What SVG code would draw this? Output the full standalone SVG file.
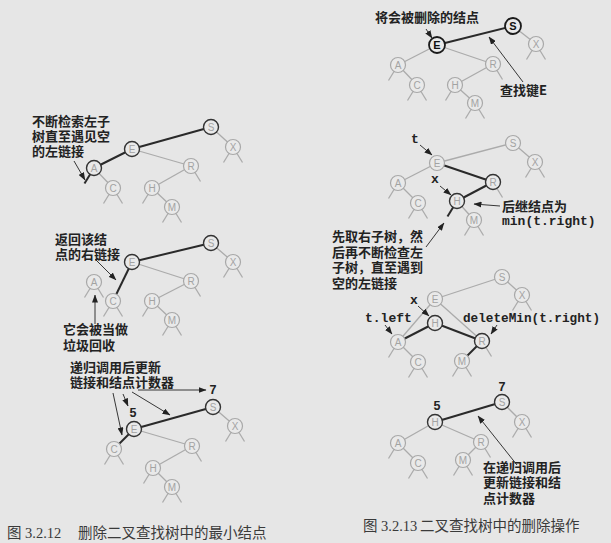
<svg xmlns="http://www.w3.org/2000/svg" width="611" height="543" viewBox="0 0 611 543">
<style>
.eg{stroke:#ababab;stroke-width:1.3;fill:none}
.ed{stroke:#2a2a2a;stroke-width:2;fill:none}
.ar{stroke:#222;stroke-width:0.9;fill:none;marker-end:url(#ah)}
.ng circle{fill:#e9e9e9;stroke:#a8a8a8;stroke-width:1.2}
.nd circle{fill:#e9e9e9;stroke:#333;stroke-width:1.4}
.nb circle{fill:#e9e9e9;stroke:#1a1a1a;stroke-width:1.8}
.ng text,.nd text{font-family:"Liberation Sans",Arial,sans-serif;font-size:10px;fill:#a3a3a3;text-anchor:middle}
.nb text{font-family:"Liberation Sans",Arial,sans-serif;font-size:11px;font-weight:bold;fill:#111;text-anchor:middle}
.lab{font-family:"Noto Sans CJK SC","Noto Sans",sans-serif;font-size:13px;font-weight:bold;fill:#222}
.mono{font-family:"Liberation Mono","DejaVu Sans Mono",monospace;font-size:13px;font-weight:bold;fill:#222}
.num{font-family:"Liberation Sans",Arial,sans-serif;font-size:12.5px;font-weight:bold;fill:#222;text-anchor:middle}
.cap{font-family:"Liberation Serif","Noto Sans CJK SC",serif;font-size:14.5px;fill:#3a3a3a}
</style>
<defs>
<marker id="ah" markerWidth="8" markerHeight="6" refX="7.5" refY="3" orient="auto" markerUnits="userSpaceOnUse"><path d="M0,0 L8,3 L0,6 Z" fill="#222"/></marker>
</defs>
<rect width="611" height="543" fill="#e6e6e6"/>
<g id="connectors">
<!-- panel a -->
<line class="eg" x1="211" y1="127" x2="233" y2="147"/>
<line class="eg" x1="132" y1="149" x2="191" y2="166"/>
<line class="eg" x1="94" y1="168" x2="113" y2="188"/>
<line class="eg" x1="191" y1="166" x2="152" y2="188"/>
<line class="eg" x1="152" y1="188" x2="172" y2="207"/>
<line class="eg" x1="233" y1="147" x2="223.5" y2="162.5"/><line class="eg" x1="233" y1="147" x2="242.5" y2="162.5"/>
<line class="eg" x1="113" y1="188" x2="103.5" y2="203.5"/><line class="eg" x1="113" y1="188" x2="122.5" y2="203.5"/>
<line class="eg" x1="152" y1="188" x2="142.5" y2="203.5"/>
<line class="eg" x1="172" y1="207" x2="162.5" y2="222.5"/><line class="eg" x1="172" y1="207" x2="181.5" y2="222.5"/>
<line class="eg" x1="191" y1="166" x2="200.5" y2="181.5"/>
<line class="ed" x1="211" y1="127" x2="132" y2="149"/>
<line class="ed" x1="132" y1="149" x2="94" y2="168"/>
<line class="ed" x1="94" y1="168" x2="84.5" y2="183.5"/>
<!-- panel b -->
<line class="eg" x1="211" y1="243" x2="233" y2="262"/>
<line class="eg" x1="132" y1="262" x2="191" y2="281"/>
<line class="eg" x1="191" y1="281" x2="152" y2="301"/>
<line class="eg" x1="152" y1="301" x2="172" y2="320"/>
<line class="eg" x1="233" y1="262" x2="223.5" y2="277.5"/><line class="eg" x1="233" y1="262" x2="242.5" y2="277.5"/>
<line class="eg" x1="94" y1="282" x2="84.5" y2="297.5"/><line class="eg" x1="94" y1="282" x2="103.5" y2="297.5"/>
<line class="eg" x1="113" y1="301" x2="103.5" y2="316.5"/><line class="eg" x1="113" y1="301" x2="122.5" y2="316.5"/>
<line class="eg" x1="152" y1="301" x2="142.5" y2="316.5"/>
<line class="eg" x1="172" y1="320" x2="162.5" y2="335.5"/><line class="eg" x1="172" y1="320" x2="181.5" y2="335.5"/>
<line class="eg" x1="191" y1="281" x2="200.5" y2="296.5"/>
<line class="ed" x1="211" y1="243" x2="132" y2="262"/>
<line class="ed" x1="132" y1="262" x2="113" y2="301"/>
<!-- panel c -->
<line class="eg" x1="213" y1="407" x2="235" y2="426"/>
<line class="eg" x1="134" y1="429" x2="192" y2="446"/>
<line class="eg" x1="192" y1="446" x2="153" y2="468"/>
<line class="eg" x1="153" y1="468" x2="172" y2="487"/>
<line class="eg" x1="235" y1="426" x2="225.5" y2="441.5"/><line class="eg" x1="235" y1="426" x2="244.5" y2="441.5"/>
<line class="eg" x1="114" y1="449" x2="104.5" y2="464.5"/><line class="eg" x1="114" y1="449" x2="123.5" y2="464.5"/>
<line class="eg" x1="153" y1="468" x2="143.5" y2="483.5"/>
<line class="eg" x1="172" y1="487" x2="162.5" y2="502.5"/><line class="eg" x1="172" y1="487" x2="181.5" y2="502.5"/>
<line class="eg" x1="192" y1="446" x2="201.5" y2="461.5"/>
<line class="ed" x1="213" y1="407" x2="134" y2="429"/>
<line class="ed" x1="134" y1="429" x2="114" y2="449"/>
<!-- panel d -->
<line class="eg" x1="513" y1="26" x2="536" y2="44"/>
<line class="eg" x1="437" y1="45" x2="398" y2="65"/>
<line class="eg" x1="437" y1="45" x2="493" y2="64"/>
<line class="eg" x1="398" y1="65" x2="417" y2="85"/>
<line class="eg" x1="493" y1="64" x2="455" y2="85"/>
<line class="eg" x1="455" y1="85" x2="475" y2="103"/>
<line class="eg" x1="536" y1="44" x2="526.5" y2="59.5"/><line class="eg" x1="536" y1="44" x2="545.5" y2="59.5"/>
<line class="eg" x1="398" y1="65" x2="388.5" y2="80.5"/>
<line class="eg" x1="417" y1="85" x2="407.5" y2="100.5"/><line class="eg" x1="417" y1="85" x2="426.5" y2="100.5"/>
<line class="eg" x1="455" y1="85" x2="445.5" y2="100.5"/>
<line class="eg" x1="475" y1="103" x2="465.5" y2="118.5"/><line class="eg" x1="475" y1="103" x2="484.5" y2="118.5"/>
<line class="eg" x1="493" y1="64" x2="502.5" y2="79.5"/>
<line class="ed" x1="513" y1="26" x2="437" y2="45"/>
<!-- panel e -->
<line class="eg" x1="513" y1="143" x2="437" y2="163"/>
<line class="eg" x1="513" y1="143" x2="535" y2="162"/>
<line class="eg" x1="437" y1="163" x2="398" y2="183"/>
<line class="eg" x1="398" y1="183" x2="418" y2="203"/>
<line class="eg" x1="457" y1="201" x2="474" y2="220"/>
<line class="eg" x1="535" y1="162" x2="525.5" y2="177.5"/><line class="eg" x1="535" y1="162" x2="544.5" y2="177.5"/>
<line class="eg" x1="398" y1="183" x2="388.5" y2="198.5"/>
<line class="eg" x1="418" y1="203" x2="408.5" y2="218.5"/><line class="eg" x1="418" y1="203" x2="427.5" y2="218.5"/>
<line class="eg" x1="474" y1="220" x2="464.5" y2="235.5"/><line class="eg" x1="474" y1="220" x2="483.5" y2="235.5"/>
<line class="eg" x1="493" y1="182" x2="502.5" y2="197.5"/>
<line class="ed" x1="437" y1="163" x2="493" y2="182"/>
<line class="ed" x1="493" y1="182" x2="457" y2="201"/>
<line class="ed" x1="457" y1="201" x2="447.5" y2="216.5"/>
<!-- panel f -->
<line class="eg" x1="502" y1="277" x2="435" y2="299"/>
<line class="eg" x1="502" y1="277" x2="522" y2="295"/>
<line class="eg" x1="435" y1="299" x2="398" y2="342"/>
<line class="eg" x1="435" y1="299" x2="482" y2="341"/>
<line class="eg" x1="398" y1="342" x2="418" y2="362"/>
<line class="eg" x1="522" y1="295" x2="512.5" y2="310.5"/><line class="eg" x1="522" y1="295" x2="531.5" y2="310.5"/>
<line class="eg" x1="398" y1="342" x2="388.5" y2="357.5"/>
<line class="eg" x1="418" y1="362" x2="408.5" y2="377.5"/><line class="eg" x1="418" y1="362" x2="427.5" y2="377.5"/>
<line class="eg" x1="462" y1="361" x2="452.5" y2="376.5"/><line class="eg" x1="462" y1="361" x2="471.5" y2="376.5"/>
<line class="eg" x1="482" y1="341" x2="491.5" y2="356.5"/>
<line class="ed" x1="435" y1="323" x2="398" y2="342"/>
<line class="ed" x1="435" y1="323" x2="482" y2="341"/>
<line class="ed" x1="482" y1="341" x2="462" y2="361"/>
<!-- panel g -->
<line class="eg" x1="502" y1="402" x2="522" y2="422"/>
<line class="eg" x1="435" y1="422" x2="398" y2="443"/>
<line class="eg" x1="435" y1="422" x2="481" y2="442"/>
<line class="eg" x1="398" y1="443" x2="418" y2="463"/>
<line class="eg" x1="481" y1="442" x2="463" y2="460"/>
<line class="eg" x1="522" y1="422" x2="512.5" y2="437.5"/><line class="eg" x1="522" y1="422" x2="531.5" y2="437.5"/>
<line class="eg" x1="398" y1="443" x2="388.5" y2="458.5"/>
<line class="eg" x1="418" y1="463" x2="408.5" y2="478.5"/><line class="eg" x1="418" y1="463" x2="427.5" y2="478.5"/>
<line class="eg" x1="463" y1="460" x2="453.5" y2="475.5"/><line class="eg" x1="463" y1="460" x2="472.5" y2="475.5"/>
<line class="eg" x1="481" y1="442" x2="490.5" y2="457.5"/>
<line class="ed" x1="435" y1="422" x2="502" y2="402"/>
<!-- annotation arrows -->
<line class="ar" x1="74" y1="161" x2="85" y2="180"/>
<line class="ar" x1="95" y1="259" x2="116" y2="280"/>
<line class="ar" x1="95" y1="324" x2="95" y2="295"/>
<line class="ar" x1="113" y1="393" x2="122" y2="435"/>
<line class="ar" x1="123" y1="394" x2="128" y2="406"/>
<line class="ar" x1="132" y1="392" x2="170" y2="415"/>
<line class="ar" x1="138" y1="390" x2="206" y2="390"/>
<line class="ar" x1="426" y1="29" x2="432" y2="38"/>
<line class="ar" x1="523" y1="82" x2="489" y2="37"/>
<line class="ar" x1="420" y1="145" x2="432" y2="155"/>
<line class="ar" x1="440" y1="186" x2="451" y2="195"/>
<line class="ar" x1="500" y1="206" x2="474" y2="204"/>
<line class="ar" x1="426" y1="247" x2="444" y2="223"/>
<line class="ar" x1="418" y1="306" x2="429" y2="316"/>
<line class="ar" x1="385" y1="325" x2="392" y2="334"/>
<line class="ar" x1="497" y1="325" x2="491" y2="334"/>
<line class="ar" x1="517" y1="465" x2="478" y2="416"/>
</g>
<!-- nodes panel a -->
<g id="a-S" class="nd"><circle cx="211" cy="127" r="7.5"/><text x="211" y="130.5">S</text></g>
<g id="a-X" class="ng"><circle cx="233" cy="147" r="7.5"/><text x="233" y="150.5">X</text></g>
<g id="a-E" class="nd"><circle cx="132" cy="149" r="7.5"/><text x="132" y="152.5">E</text></g>
<g id="a-A" class="nd"><circle cx="94" cy="168" r="7.5"/><text x="94" y="171.5">A</text></g>
<g id="a-R" class="ng"><circle cx="191" cy="166" r="7.5"/><text x="191" y="169.5">R</text></g>
<g id="a-C" class="ng"><circle cx="113" cy="188" r="7.5"/><text x="113" y="191.5">C</text></g>
<g id="a-H" class="ng"><circle cx="152" cy="188" r="7.5"/><text x="152" y="191.5">H</text></g>
<g id="a-M" class="ng"><circle cx="172" cy="207" r="7.5"/><text x="172" y="210.5">M</text></g>
<!-- nodes panel b -->
<g id="b-S" class="nd"><circle cx="211" cy="243" r="7.5"/><text x="211" y="246.5">S</text></g>
<g id="b-X" class="ng"><circle cx="233" cy="262" r="7.5"/><text x="233" y="265.5">X</text></g>
<g id="b-E" class="nd"><circle cx="132" cy="262" r="7.5"/><text x="132" y="265.5">E</text></g>
<g id="b-A" class="ng"><circle cx="94" cy="282" r="7.5"/><text x="94" y="285.5">A</text></g>
<g id="b-R" class="ng"><circle cx="191" cy="281" r="7.5"/><text x="191" y="284.5">R</text></g>
<g id="b-C" class="ng"><circle cx="113" cy="301" r="7.5"/><text x="113" y="304.5">C</text></g>
<g id="b-H" class="ng"><circle cx="152" cy="301" r="7.5"/><text x="152" y="304.5">H</text></g>
<g id="b-M" class="ng"><circle cx="172" cy="320" r="7.5"/><text x="172" y="323.5">M</text></g>
<!-- nodes panel c -->
<g id="c-S" class="nd"><circle cx="213" cy="407" r="7.5"/><text x="213" y="410.5">S</text></g>
<g id="c-X" class="ng"><circle cx="235" cy="426" r="7.5"/><text x="235" y="429.5">X</text></g>
<g id="c-E" class="nd"><circle cx="134" cy="429" r="7.5"/><text x="134" y="432.5">E</text></g>
<g id="c-C" class="ng"><circle cx="114" cy="449" r="7.5"/><text x="114" y="452.5">C</text></g>
<g id="c-R" class="ng"><circle cx="192" cy="446" r="7.5"/><text x="192" y="449.5">R</text></g>
<g id="c-H" class="ng"><circle cx="153" cy="468" r="7.5"/><text x="153" y="471.5">H</text></g>
<g id="c-M" class="ng"><circle cx="172" cy="487" r="7.5"/><text x="172" y="490.5">M</text></g>
<!-- nodes panel d -->
<g id="d-S" class="nb"><circle cx="513" cy="26" r="8"/><text x="513" y="30">S</text></g>
<g id="d-X" class="ng"><circle cx="536" cy="44" r="7.5"/><text x="536" y="47.5">X</text></g>
<g id="d-E" class="nb"><circle cx="437" cy="45" r="8"/><text x="437" y="49">E</text></g>
<g id="d-A" class="ng"><circle cx="398" cy="65" r="7.5"/><text x="398" y="68.5">A</text></g>
<g id="d-R" class="ng"><circle cx="493" cy="64" r="7.5"/><text x="493" y="67.5">R</text></g>
<g id="d-C" class="ng"><circle cx="417" cy="85" r="7.5"/><text x="417" y="88.5">C</text></g>
<g id="d-H" class="ng"><circle cx="455" cy="85" r="7.5"/><text x="455" y="88.5">H</text></g>
<g id="d-M" class="ng"><circle cx="475" cy="103" r="7.5"/><text x="475" y="106.5">M</text></g>
<!-- nodes panel e -->
<g id="e-S" class="ng"><circle cx="513" cy="143" r="7.5"/><text x="513" y="146.5">S</text></g>
<g id="e-X" class="ng"><circle cx="535" cy="162" r="7.5"/><text x="535" y="165.5">X</text></g>
<g id="e-E" class="ng"><circle cx="437" cy="163" r="7.5"/><text x="437" y="166.5">E</text></g>
<g id="e-R" class="nd"><circle cx="493" cy="182" r="7.5"/><text x="493" y="185.5">R</text></g>
<g id="e-A" class="ng"><circle cx="398" cy="183" r="7.5"/><text x="398" y="186.5">A</text></g>
<g id="e-H" class="nd"><circle cx="457" cy="201" r="7.5"/><text x="457" y="204.5">H</text></g>
<g id="e-C" class="ng"><circle cx="418" cy="203" r="7.5"/><text x="418" y="206.5">C</text></g>
<g id="e-M" class="ng"><circle cx="474" cy="220" r="7.5"/><text x="474" y="223.5">M</text></g>
<!-- nodes panel f -->
<g id="f-S" class="ng"><circle cx="502" cy="277" r="7.5"/><text x="502" y="280.5">S</text></g>
<g id="f-X" class="ng"><circle cx="522" cy="295" r="7.5"/><text x="522" y="298.5">X</text></g>
<g id="f-E" class="ng"><circle cx="435" cy="299" r="7.5"/><text x="435" y="302.5">E</text></g>
<g id="f-H" class="nd"><circle cx="435" cy="323" r="7.5"/><text x="435" y="326.5">H</text></g>
<g id="f-A" class="ng"><circle cx="398" cy="342" r="7.5"/><text x="398" y="345.5">A</text></g>
<g id="f-R" class="nd"><circle cx="482" cy="341" r="7.5"/><text x="482" y="344.5">R</text></g>
<g id="f-C" class="ng"><circle cx="418" cy="362" r="7.5"/><text x="418" y="365.5">C</text></g>
<g id="f-M" class="ng"><circle cx="462" cy="361" r="7.5"/><text x="462" y="364.5">M</text></g>
<!-- nodes panel g -->
<g id="g-S" class="nd"><circle cx="502" cy="402" r="7.5"/><text x="502" y="405.5">S</text></g>
<g id="g-X" class="ng"><circle cx="522" cy="422" r="7.5"/><text x="522" y="425.5">X</text></g>
<g id="g-H" class="nd"><circle cx="435" cy="422" r="7.5"/><text x="435" y="425.5">H</text></g>
<g id="g-A" class="ng"><circle cx="398" cy="443" r="7.5"/><text x="398" y="446.5">A</text></g>
<g id="g-R" class="ng"><circle cx="481" cy="442" r="7.5"/><text x="481" y="445.5">R</text></g>
<g id="g-C" class="ng"><circle cx="418" cy="463" r="7.5"/><text x="418" y="466.5">C</text></g>
<g id="g-M" class="ng"><circle cx="463" cy="460" r="7.5"/><text x="463" y="463.5">M</text></g>
<!-- labels -->
<g id="labels">
<text class="lab" y="126"><tspan x="32">不断检索左子</tspan><tspan x="32" dy="15">树直至遇见空</tspan><tspan x="32" dy="15">的左链接</tspan></text>
<text class="lab" y="244"><tspan x="55">返回该结</tspan><tspan x="55" dy="15">点的右链接</tspan></text>
<text class="lab" y="334"><tspan x="63">它会被当做</tspan><tspan x="63" dy="16">垃圾回收</tspan></text>
<text class="lab" y="372"><tspan x="70">递归调用后更新</tspan><tspan x="70" dy="15">链接和结点计数器</tspan></text>
<text class="num" x="133" y="417">5</text>
<text class="num" x="213" y="394">7</text>
<text class="lab" x="375" y="22">将会被删除的结点</text>
<text class="lab" x="500" y="95">查找键E</text>
<text class="mono" x="415" y="143" text-anchor="middle">t</text>
<text class="mono" x="435" y="183" text-anchor="middle">x</text>
<text y="211"><tspan class="lab" x="502">后继结点为</tspan><tspan class="mono" x="502" dy="14">min(t.right)</tspan></text>
<text class="lab" y="241"><tspan x="332">先取右子树，然</tspan><tspan x="332" dy="15.5">后再不断检查左</tspan><tspan x="332" dy="15.5">子树，直至遇到</tspan><tspan x="332" dy="15.5">空的左链接</tspan></text>
<text class="mono" x="414" y="304" text-anchor="middle">x</text>
<text class="mono" x="365" y="322">t.left</text>
<text class="mono" x="463" y="322" style="font-size:12.7px">deleteMin(t.right)</text>
<text class="num" x="502" y="391">7</text>
<text class="num" x="437" y="410">5</text>
<text class="lab" y="472"><tspan x="483">在递归调用后</tspan><tspan x="483" dy="15">更新链接和结</tspan><tspan x="483" dy="16">点计数器</tspan></text>
</g>
<g id="captions">
<text class="cap" y="538"><tspan x="7">图</tspan><tspan x="25">3.2.12</tspan><tspan x="78">删除二叉查找树中的最小结点</tspan></text>
<text class="cap" y="531"><tspan x="363">图</tspan><tspan x="381">3.2.13</tspan><tspan x="420">二叉查找树中的删除操作</tspan></text>
</g>
</svg>
